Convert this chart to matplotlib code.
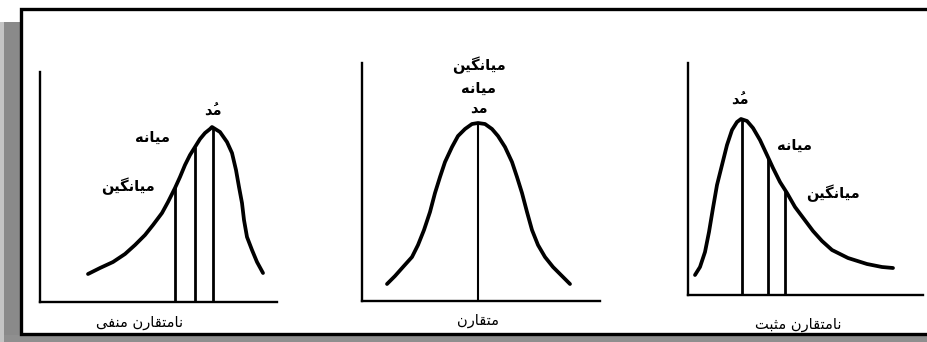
import matplotlib

matplotlib.use("Agg")
import matplotlib.pyplot as plt
from matplotlib.patches import Rectangle

W, H = 928, 342

# curve points, in each panel's own units (origin at the axes corner)
neg_x = [48, 60, 73, 85, 95, 105, 113, 122, 128, 135, 140, 145, 150, 155, 160, 165,
         170, 172, 180, 187, 192, 196, 199, 202, 204, 207, 212, 217, 223]
neg_y = [28, 34, 40, 48, 57, 67, 77, 89, 100, 114, 125, 137, 147, 155, 163, 169,
         173, 175, 170, 160, 149, 132, 115, 99, 82, 65, 52, 40, 29]
sym_x = [25, 33, 41, 50, 56, 62, 68, 73, 78, 83, 90, 96, 103, 110, 116,
         123, 130, 136, 143, 150, 155, 160, 165, 170, 176, 183, 191, 200, 208]
sym_y = [17, 25, 34, 44, 56, 71, 89, 108, 124, 139, 154, 165, 172, 177, 178,
         177, 172, 165, 154, 139, 124, 108, 89, 71, 56, 44, 34, 25, 17]
pos_x = [7, 12, 17, 21, 25, 29, 34, 39, 44, 49, 53, 59, 65, 72, 79, 85, 92, 99,
         107, 116, 125, 134, 144, 160, 179, 194, 205]
pos_y = [20, 28, 43, 63, 87, 110, 130, 150, 165, 173, 176, 174, 167, 155, 140, 127,
         113, 102, 88, 76, 64, 54, 45, 37, 31, 28, 27]

# mean, median, mode: position on the x axis and height where they meet the curve
neg_marks_x = [135, 155, 173]
neg_marks_y = [116, 155, 175]
sym_marks_x = [116]
sym_marks_y = [178]
pos_marks_x = [97, 80, 54]
pos_marks_y = [104, 138, 176]

MEAN = "میانگین"
MEDIAN = "میانه"
MODE = "مُد"
titles = ["نامتقارن منفی", "متقارن", "نامتقارن مثبت"]

FORMS = {
    "ا": ("\ufe8d", "\ufe8e"),
    "د": ("\ufea9", "\ufeaa"),
    "ر": ("\ufead", "\ufeae"),
    "ب": ("\ufe8f", "\ufe90", "\ufe91", "\ufe92"),
    "ت": ("\ufe95", "\ufe96", "\ufe97", "\ufe98"),
    "ث": ("\ufe99", "\ufe9a", "\ufe9b", "\ufe9c"),
    "ف": ("\ufed1", "\ufed2", "\ufed3", "\ufed4"),
    "ق": ("\ufed5", "\ufed6", "\ufed7", "\ufed8"),
    "م": ("\ufee1", "\ufee2", "\ufee3", "\ufee4"),
    "ن": ("\ufee5", "\ufee6", "\ufee7", "\ufee8"),
    "ه": ("\ufee9", "\ufeea", "\ufeeb", "\ufeec"),
    "ی": ("\ufbfc", "\ufbfd", "\ufbfe", "\ufbff"),
    "گ": ("\ufb92", "\ufb93", "\ufb94", "\ufb95"),
}
MARKS = {"\u064f"}


def shape(text):
    # matplotlib does no arabic shaping, so pick the joined forms and flip to visual order
    letters = []
    for ch in text:
        if ch in MARKS and letters:
            letters[-1][1] += ch
        else:
            letters.append([ch, ""])
    out = []
    for i, (ch, mk) in enumerate(letters):
        forms = FORMS.get(ch)
        if forms is None:
            out.append(mk + ch)
            continue
        prev = letters[i - 1][0] if i > 0 else None
        nxt = letters[i + 1][0] if i + 1 < len(letters) else None
        join_prev = prev in FORMS and len(FORMS[prev]) == 4
        join_next = len(forms) == 4 and nxt in FORMS
        if join_prev and join_next:
            g = forms[3]
        elif join_prev:
            g = forms[1]
        elif join_next:
            g = forms[2]
        else:
            g = forms[0]
        out.append(mk + g)
    return "".join(reversed(out))


fig = plt.figure(figsize=(W / 100, H / 100), dpi=100)
fig.patch.set_facecolor("white")

# scanned-page shadow and frame, kept behind the axes
deco = dict(transform=fig.transFigure, zorder=-5)
fig.add_artist(Rectangle((0, 0), 4 / W, 1 - 22 / H, facecolor="#c4c4c4",
                         edgecolor="none", **deco))
fig.add_artist(Rectangle((4 / W, 0), 17 / W, 1 - 22 / H, facecolor="#8a8a8a",
                         edgecolor="none", **deco))
fig.add_artist(Rectangle((4 / W, 0), 1, 7 / H, facecolor="#8f8f8f",
                         edgecolor="none", **deco))
fig.add_artist(Rectangle((21 / W, 1 - 334 / H), 1, (334 - 9) / H, facecolor="white",
                         edgecolor="black", linewidth=2.4, **deco))


def add_panel(x0, y_top, x1, y_base):
    ax = fig.add_axes([x0 / W, 1 - y_base / H, (x1 - x0) / W, (y_base - y_top) / H])
    ax.set_xlim(0, x1 - x0)
    ax.set_ylim(0, y_base - y_top)
    ax.patch.set_alpha(0)
    for side in ("top", "right"):
        ax.spines[side].set_visible(False)
    for side in ("left", "bottom"):
        ax.spines[side].set_linewidth(1.7)
    ax.set_xticks([])
    ax.set_yticks([])
    return ax


panels = [
    add_panel(40, 72, 277, 302),
    add_panel(362, 63, 600, 301),
    add_panel(688, 63, 923, 295),
]
curves = [(neg_x, neg_y), (sym_x, sym_y), (pos_x, pos_y)]
marks = [(neg_marks_x, neg_marks_y), (sym_marks_x, sym_marks_y), (pos_marks_x, pos_marks_y)]

for ax, (cx, cy), (mx, my) in zip(panels, curves, marks):
    ax.plot(cx, cy, color="black", linewidth=2.7, solid_capstyle="round",
            solid_joinstyle="round", clip_on=False)
    ax.vlines(mx, 0, my, color="black", linewidth=2.0 if len(mx) > 1 else 1.5)

lbl = dict(family="DejaVu Sans", fontweight="bold", fontsize=10.5,
           ha="center", va="center", clip_on=False)

ax = panels[0]
ax.text(173, 191, shape(MODE), **lbl)
ax.text(112, 165, shape(MEDIAN), **lbl)
ax.text(88, 116, shape(MEAN), **lbl)

ax = panels[1]
ax.text(117, 236, shape(MEAN), **lbl)
ax.text(117, 213, shape(MEDIAN), **lbl)
ax.text(117, 193, shape("مد"), **lbl)

ax = panels[2]
ax.text(52, 195, shape(MODE), **lbl)
ax.text(107, 150, shape(MEDIAN), **lbl)
ax.text(145, 102, shape(MEAN), **lbl)

title_pos = [(100, -21), (116, -20), (110, -30)]
for ax, t, (tx, ty) in zip(panels, titles, title_pos):
    ax.text(tx, ty, shape(t), family="DejaVu Sans", fontsize=10.5,
            ha="center", va="center", clip_on=False)

fig.savefig("out.png", dpi=100)
